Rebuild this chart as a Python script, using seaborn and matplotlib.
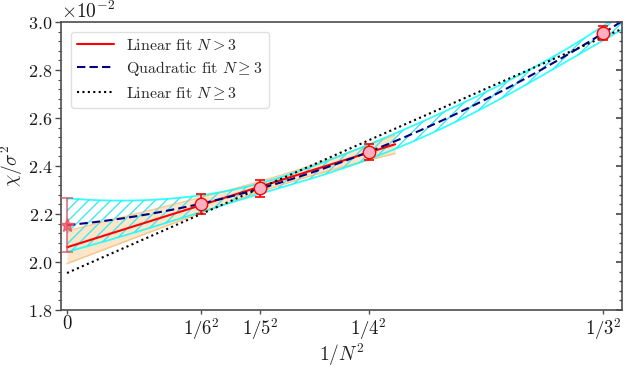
import numpy as np
import pandas as pd
import matplotlib
matplotlib.use("Agg")
import matplotlib.pyplot as plt
import seaborn as sns
from matplotlib.ticker import ScalarFormatter, MultipleLocator, AutoMinorLocator

sns.set_theme(style="white")
plt.rcParams['font.family'] = ['cmr10', 'DejaVu Serif']
plt.rcParams['mathtext.fontset'] = 'cm'
plt.rcParams['axes.formatter.use_mathtext'] = True
plt.rcParams['axes.unicode_minus'] = False
plt.rcParams['hatch.linewidth'] = 1.0

# Data
N_vals = [6, 5, 4, 3]
x_vals = [1 / n**2 for n in N_vals]
chi = [0.02242, 0.02308, 0.02458, 0.02954]
chi_err = [0.00040, 0.00035, 0.00033, 0.00030]
xtick_pos = [0, 1/36, 1/25, 1/16, 1/9]
xtick_labels = ["0", r"$1/6^2$", r"$1/5^2$", r"$1/4^2$", r"$1/3^2$"]

x = np.array(x_vals)
y = np.array(chi)
e = np.array(chi_err)

# Fits
mask = x < 0.1  # N > 3
p_lin, c_lin = np.polyfit(x[mask], y[mask], 1, w=1/e[mask], cov='unscaled')
p_quad, c_quad = np.polyfit(x, y, 2, w=1/e, cov='unscaled')
p_lin_all = np.polyfit(x, y, 1, w=1/e)

def band(p, c, xs):
    deg = len(p) - 1
    V = np.vstack([xs**(deg - k) for k in range(deg + 1)]).T
    val = V @ p
    sig = np.sqrt(np.einsum('ij,jk,ik->i', V, c, V))
    return val, sig

xl = np.linspace(0, 0.068, 100)
yl, sl = band(p_lin, c_lin, xl)
xq = np.linspace(0, 0.116, 200)
yq, sq = band(p_quad, c_quad, xq)
ya = np.polyval(p_lin_all, xq)

fig = plt.figure(figsize=(6.32, 3.68), dpi=100)
ax = fig.add_axes([0.0965, 0.1576, 0.8875, 0.7824])

# bands
ax.fill_between(xl, yl - sl, yl + sl, color='#f9c98a', alpha=0.45, lw=0)
ax.plot(xl, yl - sl, color='#f7b56a', lw=1.0, alpha=0.7)
ax.plot(xl, yl + sl, color='#f7b56a', lw=1.0, alpha=0.7)
ax.fill_between(xq, yq - sq, yq + sq, facecolor='none', edgecolor='#40e8f0',
                hatch='///', lw=0)
ax.plot(xq, yq - sq, color='cyan', lw=1.3, alpha=0.8)
ax.plot(xq, yq + sq, color='cyan', lw=1.3, alpha=0.8)

df_lin = pd.DataFrame({'x': xl, 'y': yl})
df_quad = pd.DataFrame({'x': xq, 'y': yq})
df_all = pd.DataFrame({'x': xq, 'y': ya})
sns.lineplot(data=df_lin, x='x', y='y', color='red', lw=1.5, ax=ax,
             label=r'Linear fit $N>3$')
sns.lineplot(data=df_quad, x='x', y='y', color='navy', lw=1.5, ax=ax,
             linestyle=(0, (4, 2)), label=r'Quadratic fit $N\geq 3$')
sns.lineplot(data=df_all, x='x', y='y', color='black', lw=1.5, ax=ax,
             linestyle=(0, (1, 1.6)), label=r'Linear fit $N\geq 3$')

# data points
ax.errorbar(x, y, yerr=e, fmt='none', ecolor='red', elinewidth=1.2,
            capsize=3.5, capthick=1.2, zorder=5)
sns.scatterplot(x=x, y=y, s=80, color='#ffb0c0', edgecolor='red',
                linewidth=1.0, ax=ax, zorder=6, legend=False)

# extrapolation star
ax.errorbar([0], [p_quad[-1]], yerr=[np.sqrt(c_quad[-1, -1])], fmt='*',
            color='#f05060', ms=10, ecolor='#d05060', elinewidth=1.2,
            capsize=4, capthick=1.2, alpha=0.8, zorder=6)

ax.set_xlim(-0.00125, 0.115)
ax.set_ylim(0.018, 0.030)
ax.set_xticks(xtick_pos)
ax.set_xticklabels(xtick_labels)
ax.yaxis.set_major_locator(MultipleLocator(0.002))
ax.yaxis.set_minor_locator(AutoMinorLocator(5))
fmt = ScalarFormatter(useMathText=True)
fmt.set_powerlimits((0, 0))
ax.yaxis.set_major_formatter(fmt)
ax.yaxis.get_offset_text().set_fontsize(14)

ax.set_xlabel(r'$1/N^2$', fontsize=14, labelpad=0)
ax.set_ylabel(r'$\chi/\sigma^2$', fontsize=14, labelpad=2)
ax.tick_params(axis='x', labelsize=13.5, colors='0.1')
ax.tick_params(axis='y', labelsize=13, colors='0.1')
ax.tick_params(axis='y', which='major', direction='out', length=4, width=1, left=True, color='0.3', pad=2)
ax.tick_params(axis='y', which='minor', direction='out', length=2.5, width=0.8, left=True, color='0.3')
ax.tick_params(axis='x', which='major', direction='out', length=3, width=1, bottom=True, color='0.3', pad=1)

sec = ax.secondary_yaxis('right')
sec.yaxis.set_major_locator(MultipleLocator(0.002))
sec.yaxis.set_minor_locator(AutoMinorLocator(5))
sec.tick_params(which='major', direction='in', length=4, labelright=False, color='0.3')
sec.tick_params(which='minor', direction='in', length=2.5, labelright=False, color='0.3')
sec.spines['right'].set_visible(False)

for sp in ax.spines.values():
    sp.set_color('0.3')
    sp.set_linewidth(1.2)

leg = ax.legend(loc='upper left', fontsize=11.5, frameon=True, fancybox=True,
                borderaxespad=0.6, handlelength=2.3, labelspacing=0.4)
leg.get_frame().set_edgecolor('0.85')

fig.savefig('out.png', dpi=100)
